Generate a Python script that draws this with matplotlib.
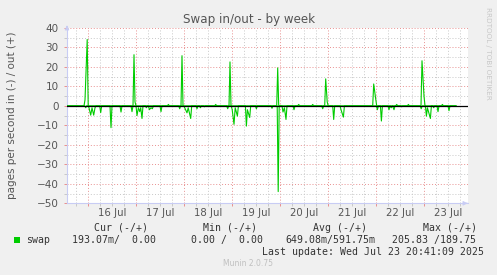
import matplotlib
matplotlib.use("Agg")
import matplotlib.pyplot as plt
from matplotlib.ticker import MultipleLocator, NullFormatter

# hours since 16 Jul 00:00
in_hours = [-10.5, -1.6, -1.15, -0.7,
            0.1, 0.5, 1.35, 2, 2.85, 3.5, 4,
            5.85, 6.35, 6.85, 11, 11.5, 12, 16, 16.5, 17,
            21.5, 22, 22.5,
            24, 24.5, 25.2, 25.85, 26.35, 27, 27.5,
            28.7, 29.2, 29.7, 30.2, 30.7, 31.5, 32.2, 32.7,
            36, 36.5, 37,
            45.35, 45.85, 46.35,
            47.85, 48.35, 49.5, 50.1, 51.35, 51.85,
            54, 54.5, 55, 55.7, 56.2, 56.7, 57.7, 58.2, 58.7,
            69.35, 69.85, 70.35,
            71.6, 72.1, 73, 73.6, 74.7, 75.2,
            78.7, 79.2, 79.7, 80.85, 81.35,
            83.7, 84.2, 84.7,
            91.5, 92, 92.5,
            94.6, 95.1, 95.6,
            97, 97.5, 98.2, 99, 99.5,
            102.5, 103, 103.5,
            116.85, 117.35, 117.85,
            122.35, 122.85, 123.35,
            126, 126.5, 127.7, 128.2,
            144.2, 144.7, 145.2, 146.2, 146.7, 147.2,
            150, 150.5, 151, 151.6, 152.3, 153, 153.5,
            156.35, 156.85, 157.35,
            166.1, 166.6, 167.1,
            168.7, 169.2, 169.7, 171.2, 171.7,
            172.35, 172.85, 173.35,
            174.5, 175, 175.5,
            180, 180.5, 181, 184]
swap_in = [0, 0, 1, 0,
           0, 1, 4.8, 1, 4.8, 1, 0,
           0, 3.5, 0, 0, 11.2, 0, 0, 3.2, 0,
           0, 3, 0,
           0, 5, 1, 3, 1, 6.5, 0,
           0, 1, 0, 0, 2, 1, 1.5, 0,
           0, 3, 0,
           0, 1.5, 0,
           0, 1, 3.6, 1, 6.5, 0,
           0, 1.5, 0, 0, 1, 0, 0, 0.5, 0,
           0, 1.5, 0,
           0, 2, 9.5, 1, 5.3, 0,
           0, 10.4, 2, 6, 0,
           0, 1.5, 0,
           0, 1.3, 0,
           0, 44, 0,
           0, 3.2, 1, 7, 0,
           0, 2, 0,
           0, 1.5, 0,
           0, 7, 0,
           0, 2, 5.8, 0,
           0, 2, 0, 0, 7.8, 0,
           0, 2, 0, 1, 0, 2, 0,
           0, 0.5, 0,
           0, 1.5, 0,
           0, 5.3, 1, 6.5, 0,
           0, 1, 0,
           0, 3, 0,
           0, 2.5, 0, 0]

out_hours = [-10.5, -2, -1.5, -0.4, 0.1,
             22.5, 23, 23.5, 24,
             39.7, 40.2, 40.7,
             46.5, 47, 47.5,
             63.35, 63.85, 64.35,
             70.5, 71, 71.5,
             94.35, 94.85, 95.35,
             104.85, 105.35, 105.85,
             111.85, 112.35, 112.85,
             118.35, 118.85, 119.6, 120.1,
             142.35, 142.85, 143.85, 144.35,
             153.85, 154.35, 154.85,
             159.7, 160.2, 160.7,
             166.5, 167, 168, 168.5,
             176.7, 177.2, 177.7, 184]
swap_out = [0, 0, 3, 34, 0,
            0, 26.2, 2, 0,
            0, 0.7, 0,
            0, 25.7, 0,
            0, 0.7, 0,
            0, 22.5, 0,
            0, 19.4, 0,
            0, 0.7, 0,
            0, 0.7, 0,
            0, 13.8, 2, 0,
            0, 11.2, 3.5, 0,
            0, 0.7, 0,
            0, 0.7, 0,
            0, 23.1, 5, 0,
            0, 0.7, 0, 0]

day_labels = ['16 Jul', '17 Jul', '18 Jul', '19 Jul', '20 Jul', '21 Jul', '22 Jul', '23 Jul']
cur = ['193.07m', '0.00']
mins = ['0.00', '0.00']
avg = ['649.08m', '591.75m']
maxs = ['205.83', '189.75']

W, H = 497, 275
fig = plt.figure(figsize=(W / 100, H / 100), dpi=100)
fig.patch.set_facecolor('#F0F0F0')

def px(x, y):
    return x / W, 1 - y / H

left, right, top, bottom = 67, 468, 27.8, 203.3
ax = fig.add_axes([left / W, 1 - bottom / H, (right - left) / W, (bottom - top) / H])
ax.set_facecolor('white')
ax.set_xlim(-10.5, 190)
ax.set_ylim(-50, 40)

green = '#00CC00'
ax.plot(in_hours, [-v for v in swap_in], color=green, lw=0.8, zorder=3)
ax.plot(out_hours, swap_out, color=green, lw=0.8, zorder=3)
ax.axhline(0, color='black', lw=0.9, zorder=4)

# grids
ax.xaxis.set_major_locator(MultipleLocator(24))
ax.xaxis.set_minor_locator(MultipleLocator(6))
ax.yaxis.set_major_locator(MultipleLocator(10))
ax.yaxis.set_minor_locator(MultipleLocator(5))
ax.xaxis.set_major_formatter(NullFormatter())
ax.grid(which='minor', color='#C8C8C8', lw=0.7, linestyle=(0, (1, 2)))
ax.grid(which='major', color='#E89090', lw=0.7, linestyle=(0, (1, 2)))
ax.tick_params(which='both', length=2, width=0.7, color='#C8C8C8')
ax.tick_params(which='major', color='#E89090')
ax.tick_params(axis='y', which='major', labelsize=7.5, labelcolor='#555555', pad=4)

for i, lab in enumerate(day_labels):
    ax.text(12 + 24 * i, -0.025, lab, transform=ax.get_xaxis_transform(),
            ha='center', va='top', fontsize=7.3, color='#555555')

for s in ['top', 'right']:
    ax.spines[s].set_visible(False)
for s in ['left', 'bottom']:
    ax.spines[s].set_color('#C8CCF4')
    ax.spines[s].set_linewidth(0.8)
ax.annotate('', xy=(1.006, 0), xytext=(0.99, 0), xycoords='axes fraction',
            arrowprops=dict(arrowstyle='-|>', color='#C8CCF4', lw=0.8, mutation_scale=6))
ax.annotate('', xy=(0, 1.03), xytext=(0, 0.99), xycoords='axes fraction',
            arrowprops=dict(arrowstyle='-|>', color='#C8CCF4', lw=0.8, mutation_scale=6))

fig.text(*px(249, 19), 'Swap in/out - by week', ha='center', va='center',
         fontsize=8.6, color='#555555')
fig.text(*px(12, 115), 'pages per second in (-) / out (+)', rotation=90,
         ha='center', va='center', fontsize=7.5, color='#555555')
fig.text(*px(488, 53), 'RRDTOOL / TOBI OETIKER', rotation=270,
         ha='center', va='center', fontsize=5.2, color='#C8C8C8')

mono = dict(family='DejaVu Sans Mono', fontsize=7.1, color='#333333', va='center')
fig.text(*px(94, 228), 'Cur (-/+)', **mono)
fig.text(*px(203, 228), 'Min (-/+)', **mono)
fig.text(*px(313, 228), 'Avg (-/+)', **mono)
fig.text(*px(423, 228), 'Max (-/+)', **mono)
fig.patches.append(plt.Rectangle(px(14, 243), 6 / W, 6 / H, transform=fig.transFigure,
                                 facecolor=green, edgecolor='none'))
fig.text(*px(26, 240), 'swap', **mono)
fig.text(*px(72, 240), '%s/%6s' % (cur[0], cur[1]), **mono)
fig.text(*px(191, 240), '%s /%6s' % (mins[0], mins[1]), **mono)
fig.text(*px(285, 240), '%s/%s' % (avg[0], avg[1]), **mono)
fig.text(*px(392, 240), '%s /%s' % (maxs[0], maxs[1]), **mono)
fig.text(*px(262, 252), 'Last update: Wed Jul 23 20:41:09 2025', **mono)
fig.text(*px(248, 264), 'Munin 2.0.75', ha='center', va='center',
         fontsize=5.5, color='#C0C0C0')

fig.savefig('out.png', dpi=100, facecolor=fig.get_facecolor())
